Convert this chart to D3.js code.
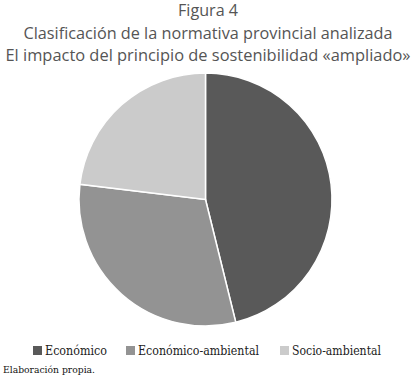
<!DOCTYPE html>
<html>
<head>
<meta charset="utf-8">
<script src="https://cdn.jsdelivr.net/npm/d3@7"></script>
<style>
  body { margin: 0; background: #fff; }
</style>
</head>
<body>
<div id="chart"></div>
<script>
const titleLines = [
  "Figura 4",
  "Clasificación de la normativa provincial analizada",
  "El impacto del principio de sostenibilidad «ampliado»"
];
const categories = ["Económico", "Económico-ambiental", "Socio-ambiental"];
const values = [6, 4, 3];
const colors = ["#595959", "#939393", "#cbcbcb"];
const source = "Elaboración propia.";

const width = 416, height = 387;
const cx = 205.5, cy = 199.5, radius = 126.5;
const serif = "'DejaVu Serif', 'Liberation Serif', 'Times New Roman', serif";

const svg = d3.select("#chart").append("svg")
  .attr("width", width)
  .attr("height", height);

// title
const titleWidths = [60, 369, 405];
svg.append("g")
  .selectAll("text")
  .data(titleLines)
  .join("text")
  .attr("x", width / 2)
  .attr("y", (d, i) => 16 + i * 22.5)
  .attr("text-anchor", "middle")
  .attr("textLength", (d, i) => titleWidths[i])
  .attr("lengthAdjust", "spacingAndGlyphs")
  .style("font-family", "'Open Sans', sans-serif")
  .style("font-size", "16px")
  .style("fill", "#555")
  .text(d => d);

// pie
const color = d3.scaleOrdinal().domain(categories).range(colors);
const pie = d3.pie().sort(null).value(d => d.value);
const arc = d3.arc().innerRadius(0).outerRadius(radius);
const data = categories.map((c, i) => ({ name: c, value: values[i] }));

svg.append("g")
  .attr("transform", `translate(${cx},${cy})`)
  .selectAll("path")
  .data(pie(data))
  .join("path")
  .attr("d", arc)
  .attr("fill", d => color(d.data.name))
  .attr("stroke", "#fff")
  .attr("stroke-width", 1.5);

// legend
const legendX = [33, 126, 280];
const legendW = [62, 121, 89];
const legend = svg.append("g")
  .selectAll("g")
  .data(categories)
  .join("g")
  .attr("transform", (d, i) => `translate(${legendX[i]},346)`);

legend.append("rect")
  .attr("width", 9)
  .attr("height", 9)
  .attr("fill", d => color(d));

legend.append("text")
  .attr("x", 12)
  .attr("y", 9)
  .attr("textLength", (d, i) => legendW[i])
  .attr("lengthAdjust", "spacingAndGlyphs")
  .style("font-family", serif)
  .style("font-size", "13px")
  .style("fill", "#222")
  .text(d => d);

svg.append("text")
  .attr("x", 3)
  .attr("y", 373)
  .attr("textLength", 92)
  .attr("lengthAdjust", "spacingAndGlyphs")
  .style("font-family", serif)
  .style("font-size", "10px")
  .style("fill", "#111")
  .text(source);
</script>
</body>
</html>
